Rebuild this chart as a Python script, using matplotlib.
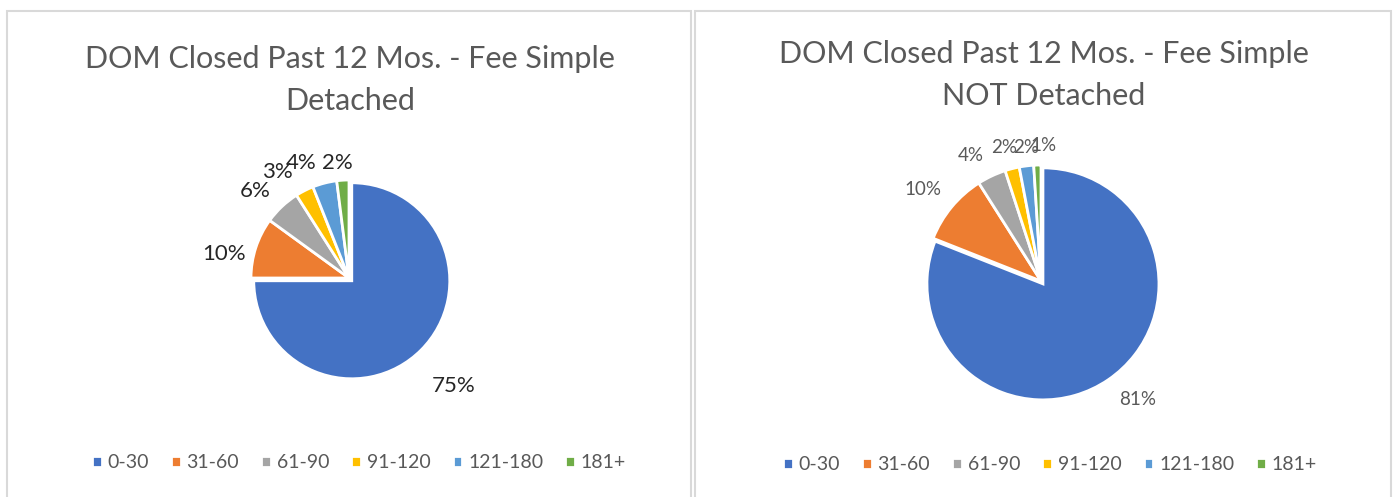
import numpy as np
import matplotlib
matplotlib.use("Agg")
import matplotlib.pyplot as plt
from matplotlib.patches import Rectangle

plt.rcParams['font.family'] = ['Lato', 'DejaVu Sans']

# data
categories = ['0-30', '31-60', '61-90', '91-120', '121-180', '181+']
detached = [75, 10, 6, 3, 4, 2]
not_detached = [81, 10, 4, 2, 2, 1]
title_left = 'DOM Closed Past 12 Mos. - Fee Simple\nDetached'
title_right = 'DOM Closed Past 12 Mos. - Fee Simple\nNOT Detached'

colors = ['#4472C4', '#ED7D31', '#A5A5A5', '#FFC000', '#5B9BD5', '#70AD47']

W, H = 1394, 497
fig = plt.figure(figsize=(W / 100, H / 100), dpi=100)


def px_axes(cx, cy, half):
    # square axes centred on pixel (cx, cy), y from top
    return fig.add_axes([(cx - half) / W, (H - cy - half) / H, 2 * half / W, 2 * half / H])


def draw_pie(cx, cy, r, vals, explode0, lab_dist, lab_shift, lab_size, lab_color):
    half = r * 1.6
    ax = px_axes(cx, cy, half)
    ex = [explode0] + [0] * (len(vals) - 1)
    wedges, _ = ax.pie(vals, colors=colors, startangle=90, counterclock=False,
                       explode=ex, radius=1,
                       wedgeprops=dict(edgecolor='white', linewidth=2))
    for i, w in enumerate(wedges):
        mid = np.deg2rad((w.theta1 + w.theta2) / 2 + lab_shift[i])
        ax.text(lab_dist[i] * np.cos(mid), lab_dist[i] * np.sin(mid), f'{vals[i]}%',
                ha='center', va='center', fontsize=lab_size, color=lab_color)
    ax.set_xlim(-1.6, 1.6)
    ax.set_ylim(-1.6, 1.6)
    ax.set_aspect('equal')
    ax.axis('off')
    return wedges


# panel borders
for x0, x1 in [(7, 691), (695, 1391)]:
    fig.patches.append(Rectangle((x0 / W, -0.05), (x1 - x0) / W, (H - 11) / H + 0.05,
                                 transform=fig.transFigure, fill=False,
                                 edgecolor='#d9d9d9', linewidth=1.5))

wl = draw_pie(349, 278, 98, detached, 0.04,
              [1.53, 1.3, 1.31, 1.31, 1.27, 1.18],
              [-1, 7, 4, 7, 8, 2], 16, '#262626')
wr = draw_pie(1041, 281, 116, not_detached, 0.03,
              [1.32, 1.29, 1.24, 1.19, 1.16, 1.17],
              [5, 2, 4, 1, -1, -3], 13.5, '#595959')

fig.text(350 / W, 1 - 80 / H, title_left, ha='center', va='center',
         fontsize=22, color='#595959', linespacing=1.6)
fig.text(1044 / W, 1 - 75 / H, title_right, ha='center', va='center',
         fontsize=22, color='#595959', linespacing=1.6)

for wedges, cx, cy in [(wl, 359, 463), (wr, 1050, 465)]:
    fig.legend(wedges, categories, loc='center', bbox_to_anchor=(cx / W, 1 - cy / H),
               ncol=6, frameon=False, fontsize=14, labelcolor='#595959',
               handlelength=0.5, handleheight=0.5, handletextpad=0.3,
               columnspacing=1.13)

fig.savefig('out.png', dpi=100)
